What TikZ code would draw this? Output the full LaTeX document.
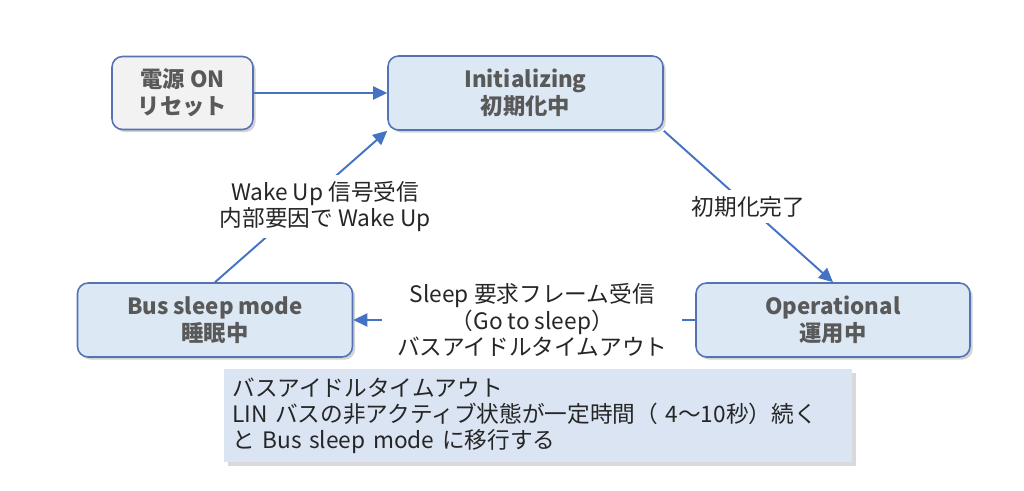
\documentclass[tikz,border=0pt]{standalone}
\usepackage{fontspec}
\setmainfont{Noto Sans CJK JP}
\usetikzlibrary{arrows.meta,shadows,positioning}
\definecolor{boxline}{RGB}{84,114,180}
\definecolor{boxfill}{RGB}{221,232,245}
\definecolor{grayfill}{RGB}{242,242,242}
\definecolor{arrowblue}{RGB}{68,114,196}
\definecolor{notefill}{RGB}{218,228,243}
\definecolor{boxtext}{RGB}{89,89,89}
\definecolor{labeltext}{RGB}{38,38,38}
\tikzset{
    mode/.style={
    rectangle,rounded corners=6pt,draw=boxline,line width=0.9pt,fill=boxfill,
    text=boxtext,align=center,minimum width=5.5cm,minimum height=1.48cm,
    font=\fontsize{12.7}{15.5}\selectfont\bfseries,
    drop shadow={shadow xshift=1.5pt,shadow yshift=-1.5pt,opacity=0.35}
    },
    poweron/.style={
    mode,fill=grayfill,minimum width=2.82cm,minimum height=1.46cm
    },
    note/.style={
    rectangle,fill=notefill,text=labeltext,align=left,inner sep=0.16cm,
    text width=12.24cm,minimum height=1.86cm,
    font=\fontsize{12.9}{14.8}\selectfont,
    drop shadow={shadow xshift=2pt,shadow yshift=-2pt,opacity=0.3}
    },
    flow/.style={
    draw=arrowblue,line width=1.1pt,-{Triangle[length=8pt,width=7.5pt]}
    },
    lbl/.style={
    fill=white,text=labeltext,align=center,
    font=\fontsize{12.9}{15}\selectfont
    },
}
\begin{document}
\begin{tikzpicture}
   \useasboundingbox (0,0) rectangle (20.48,-9.82);

   \node[poweron] (Power) at (3.65,-1.86) {電源 ON\\リセット};
   \node[mode] (Init) at (10.51,-1.86) {Initializing\\初期化中};
   \node[mode] (Sleep) at (4.30,-6.40) {Bus sleep mode\\睡眠中};
   \node[mode,minimum width=5.48cm] (Oper) at (16.66,-6.40) {Operational\\運用中};

   \node[note,anchor=north west] (Note) at (4.48,-7.38)
     {バスアイドルタイムアウト\\LIN バスの非アクティブ状態が一定時間（ 4〜10秒）続く\\と Bus sleep mode に移行する};

  \path
    (Power.east) edge[flow] (Init.west)
    (Init.south east) edge[flow] node[lbl] {初期化完了} (Oper.north)
    (Oper.west) edge[flow] node[lbl,xshift=0.16cm,inner xsep=0.3cm]
        {Sleep 要求フレーム受信\\（Go to sleep）\\バスアイドルタイムアウト} (Sleep.east)
    (Sleep.north) edge[flow] node[lbl,xshift=0.48cm] {Wake Up 信号受信\\内部要因で Wake Up} (Init.south west);
\end{tikzpicture}
\end{document}
